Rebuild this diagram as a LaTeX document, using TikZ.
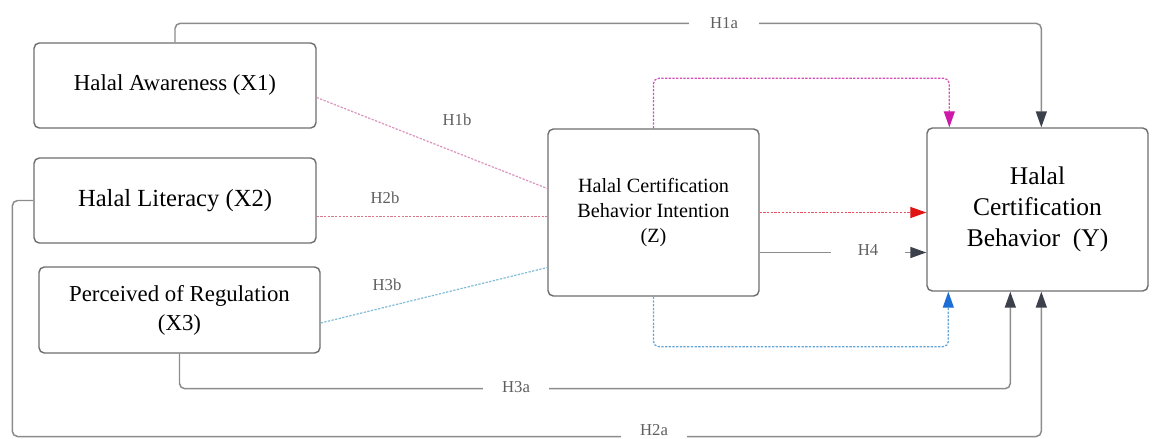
\documentclass[tikz,border=0pt]{standalone}
\usepackage{fontspec}
\setmainfont{Liberation Serif}
\usetikzlibrary{arrows.meta,calc,positioning}
\definecolor{boxgray}{RGB}{110,110,110}
\definecolor{linegray}{RGB}{140,140,140}
\definecolor{tipgray}{RGB}{60,64,75}
\definecolor{labelgray}{RGB}{95,95,95}
\definecolor{intpink}{RGB}{210,80,180}
\definecolor{tipmagenta}{RGB}{205,25,170}
\definecolor{intred}{RGB}{232,80,100}
\definecolor{tipred}{RGB}{225,20,20}
\definecolor{intblue}{RGB}{100,165,215}
\definecolor{tipblue}{RGB}{30,110,215}
\definecolor{awpink}{RGB}{220,150,190}
\definecolor{litpink}{RGB}{215,120,140}
\definecolor{reglight}{RGB}{130,190,215}

\begin{document}
\begin{tikzpicture}[x=0.02cm, y=-0.02cm,
  varbox/.style={draw=boxgray, line width=0.8pt, rounded corners=3pt, fill=white, align=center, inner sep=0pt},
  conn/.style={draw=linegray, line width=0.85pt, rounded corners=3pt},
  hyptip/.style={-{Triangle[length=0.32cm, width=0.22cm, color=#1]}},
  dotline/.style={line width=0.7pt, dash pattern=on 1.3pt off 0.8pt, rounded corners=3pt},
  hyp/.style={font=\fontsize{9.5}{11}\selectfont, text=labelgray, fill=white, inner ysep=1pt}
]
\useasboundingbox (0,0) rectangle (1152,439);

% Variables
\node[varbox, minimum width=5.64cm, minimum height=1.70cm, font=\fontsize{13}{15.6}\selectfont] (aware) at (175,85.5) {Halal Awareness (X1)};
\node[varbox, minimum width=5.64cm, minimum height=1.70cm, font=\fontsize{14}{16.8}\selectfont] (literacy) at (175,200.5) {Halal Literacy (X2)};
\node[varbox, minimum width=5.62cm, minimum height=1.72cm, font=\fontsize{13}{16.5}\selectfont] (regul) at (179.5,310) {Perceived of Regulation\\(X3)};
\node[varbox, minimum width=4.22cm, minimum height=3.34cm, font=\fontsize{11.5}{14}\selectfont] (intent) at (653.5,212.5) {Halal Certification\\Behavior Intention\\(Z)};
\node[varbox, minimum width=4.42cm, minimum height=3.26cm, font=\fontsize{14.5}{17.5}\selectfont] (behav) at (1037.5,209.5) {Halal\\Certification\\Behavior~~(Y)};

% Direct paths
\draw[conn, hyptip=tipgray] (aware.north) -- ++(0,-19) -| ($(behav.north west)+(115,0)$);
\node[hyp, inner xsep=12pt] (h1a) at (724,23) {H1a};
\draw[conn, hyptip=tipgray] (literacy.west) -- ++(-21,0) -- ++(0,236) -| ($(behav.south west)+(115,0)$);
\node[hyp, inner xsep=11pt, inner ysep=4pt] (h2a) at (654,430) {H2a};
\draw[conn, hyptip=tipgray] (regul.south) -- ++(0,35) -| ($(behav.south west)+(84,0)$);
\node[hyp, inner xsep=11pt] (h3a) at (516,387) {H3a};

% Paths to the intention
\draw[dotline, awpink] ($(aware.east)+(0,12)$) -- ($(intent.west)+(0,-24)$);
\node[hyp] (h1b) at (457,120) {H1b};
\draw[dotline, litpink] ($(literacy.east)+(0,16)$) -- ($(intent.west)+(0,4)$);
\node[hyp] (h2b) at (385,198) {H2b};
\draw[dotline, reglight] ($(regul.east)+(0,13)$) -- ($(intent.west)+(0,55)$);
\node[hyp] (h3b) at (387,285) {H3b};

% Intention to behavior
\draw[dotline, intpink, hyptip=tipmagenta] (intent.north) -- ++(0,-50) -| ($(behav.north west)+(23,0)$);
\draw[dotline, intred, hyptip=tipred] (intent.east) -- (intent.east -| behav.west);
\draw[conn, hyptip=tipgray] ($(intent.east)+(0,40)$) -- ($(intent.east -| behav.west)+(0,40)$);
\node[hyp, inner xsep=15pt] (h4) at (868,250) {H4};
\draw[dotline, intblue, hyptip=tipblue] (intent.south) -- ++(0,50) -| ($(behav.south west)+(22,0)$);
\end{tikzpicture}
\end{document}
